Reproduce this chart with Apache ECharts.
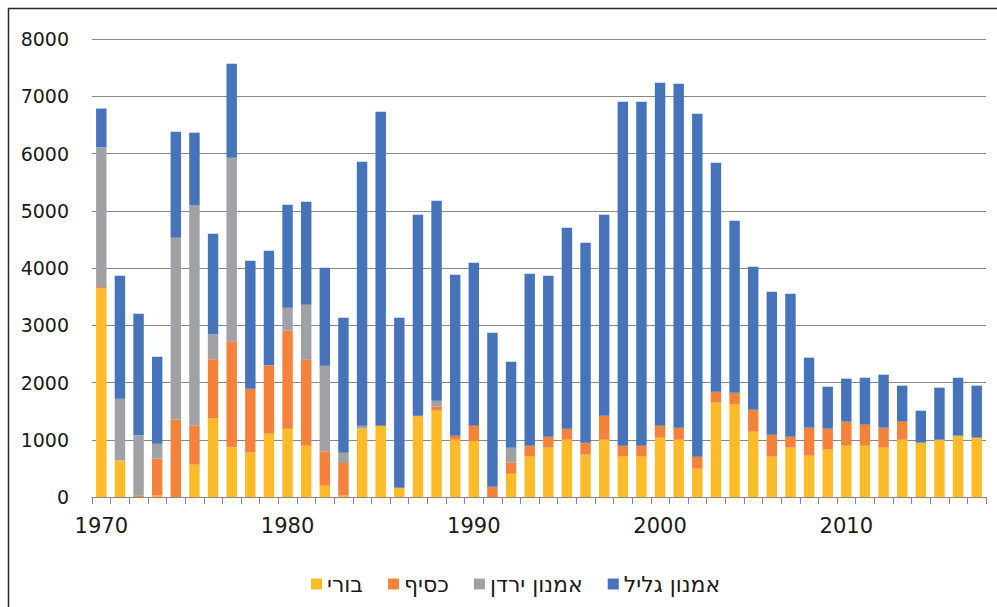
<!DOCTYPE html>
<head>
    <meta charset="utf-8">
    <title>ECharts</title>
    <script type="text/javascript" src="https://cdn.jsdelivr.net/npm/echarts@6/dist/echarts.min.js"></script>
    <style>
        html, body { margin: 0; padding: 0; background: #fff; }
    </style>
</head>

<body>
<div id="main" style="width:997px;height:607px"></div>

<script type="text/javascript">

            // years 1970 - 2017
            var years = [];
            for (var y = 1970; y <= 2017; y++) years.push(String(y));

            // series values, bottom to top of the stack
            var bori = [3645, 640, 0, 25, 0, 565, 1374, 868, 780, 1106, 1194, 897, 198, 25, 1194, 1246, 163, 1403, 1508, 1000,
                        984, 0, 408, 705, 862, 1000, 739, 1000, 705, 705, 1036, 1000, 495, 1648, 1613, 1141, 705, 862, 722, 827,
                        897, 897, 862, 1000, 949, 1000, 1071, 1036];
            var kasif = [25, 0, 30, 645, 1357, 687, 1031, 1851, 1112, 1194, 1711, 1508, 600, 569, 0, 0, 0, 18, 70, 71,
                         262, 180, 192, 192, 192, 194, 210, 420, 192, 192, 210, 211, 210, 192, 209, 384, 384, 192, 489, 367,
                         419, 366, 349, 316, 0, 0, 0, 0];
            var yarden = [2440, 1078, 1047, 262, 3173, 3843, 436, 3208, 0, 0, 402, 955, 1496, 180, 52, 0, 0, 0, 105, 0,
                          0, 0, 262, 0, 0, 0, 0, 0, 0, 0, 0, 0, 0, 0, 0, 0, 0, 0, 0, 0,
                          0, 0, 0, 0, 0, 0, 0, 0];
            var galil = [675, 2148, 2125, 1519, 1851, 1269, 1759, 1642, 2236, 2003, 1799, 1799, 1712, 2358, 4611, 5485, 2969, 3511, 3493, 2813,
                         2847, 2690, 1502, 3004, 2812, 3510, 3494, 3511, 6008, 6008, 5991, 6009, 5991, 4000, 3005, 2498, 2498, 2498, 1223, 733,
                         751, 821, 926, 629, 559, 910, 1013, 909];

            var names = ['בורי', 'כסיף', 'אמנון ירדן', 'אמנון גליל'];
            var colors = ['#FDBB2A', '#F4823B', '#9FA1A4', '#4673BA'];
            var values = [bori, kasif, yarden, galil];

            var font = 'DejaVu Sans';

            var series = [];
            for (var i = 0; i < names.length; i++) {
                series.push({
                    name: names[i],
                    type: 'bar',
                    stack: 'total',
                    barWidth: '56%',
                    itemStyle: { color: colors[i] },
                    data: values[i]
                });
            }

            // svg renderer so the browser lays out the Hebrew text right to left
            var myChart = echarts.init(document.getElementById('main'), null, { renderer: 'svg' });
            var option = {
                animation: false,
                color: colors,
                textStyle: { fontFamily: font },
                // frame round the chart
                graphic: [{
                    type: 'rect',
                    shape: { x: 8.5, y: 8.5, width: 1000, height: 700 },
                    style: { fill: 'none', stroke: '#2a2a2a', lineWidth: 1.5 },
                    silent: true
                }],
                legend: {
                    data: names,
                    left: 306,
                    top: 568,
                    itemWidth: 11,
                    itemHeight: 11,
                    itemGap: 25,
                    icon: 'rect',
                    textStyle: { fontFamily: font, fontSize: 22, color: '#1a1a1a' }
                },
                grid: {
                    left: 92,
                    right: 11,
                    top: 39,
                    bottom: 110
                },
                xAxis: {
                    type: 'category',
                    data: years,
                    axisLine: { lineStyle: { color: '#888', width: 1 } },
                    axisTick: { show: true, interval: 0, length: 7, lineStyle: { color: '#888' } },
                    axisLabel: {
                        interval: 9,
                        margin: 18,
                        fontFamily: font,
                        fontSize: 21,
                        color: '#1a1a1a'
                    }
                },
                yAxis: {
                    type: 'value',
                    min: 0,
                    max: 8000,
                    interval: 1000,
                    axisLine: { show: false },
                    axisTick: { show: false },
                    splitLine: { lineStyle: { color: '#888', width: 1 } },
                    axisLabel: {
                        margin: 23,
                        fontFamily: font,
                        fontSize: 19,
                        color: '#1a1a1a',
                        formatter: function (v) { return String(v); }
                    }
                },
                series: series
            };

            myChart.setOption(option);

</script>
</body>
